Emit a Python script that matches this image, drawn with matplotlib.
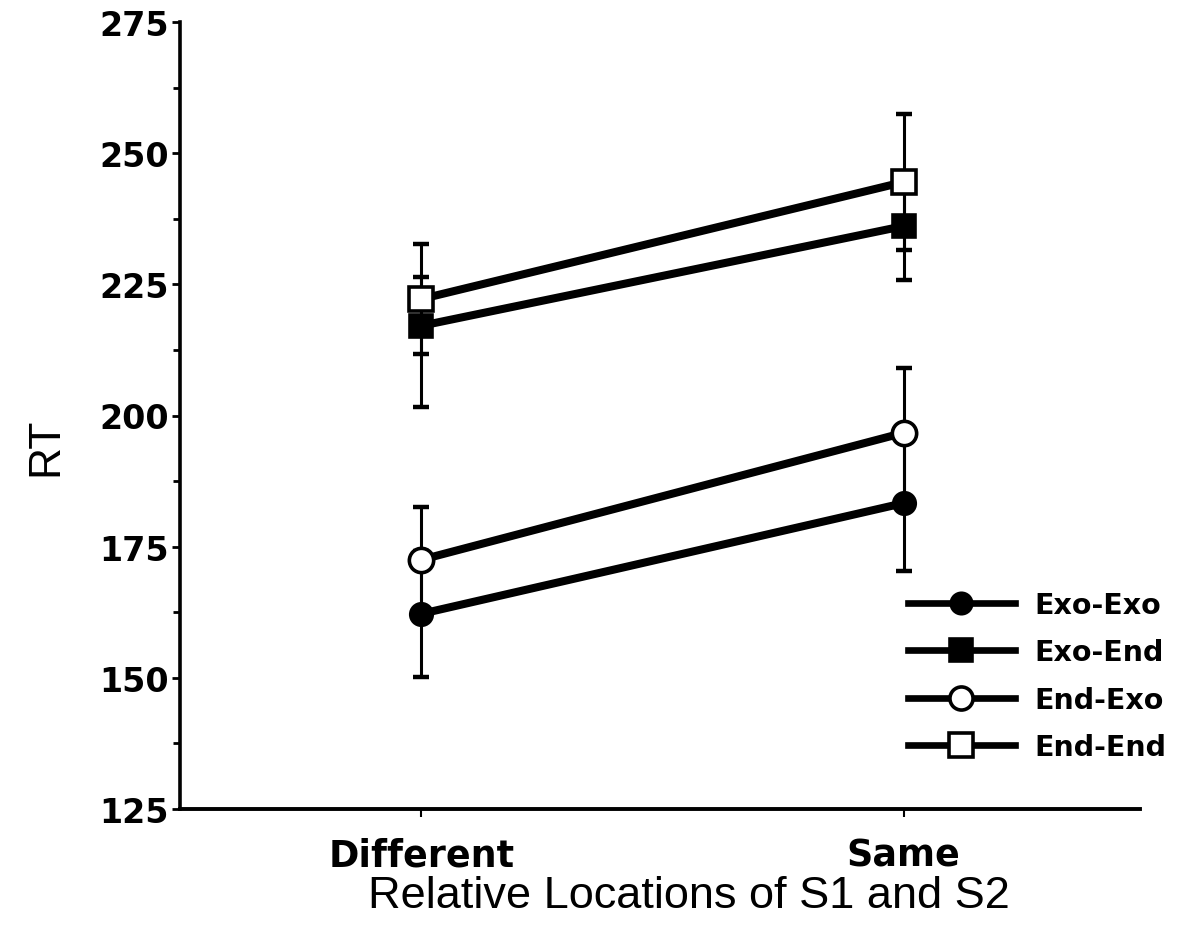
import numpy as np
import matplotlib
matplotlib.use("Agg")
import matplotlib.pyplot as plt
from matplotlib.ticker import MultipleLocator

# data
conds = ["Different", "Same"]
series = ["Exo-Exo", "Exo-End", "End-Exo", "End-End"]
exo_exo = [162.2, 183.3]
exo_exo_err = [12.0, 13.0]
exo_end = [217.1, 236.1]
exo_end_err_lo = [15.5, 10.3]
exo_end_err_hi = [9.3, 10.3]
end_exo = [172.5, 196.7]
end_exo_err = [10.0, 12.3]
end_end = [222.2, 244.5]
end_end_err = [10.5, 13.0]

fig = plt.figure(figsize=(11.81, 9.29), dpi=100)
ax = fig.add_axes([180 / 1181, 1 - 810 / 929, 960 / 1181, 787 / 929])

x = np.arange(len(conds))
styles = [
    (exo_exo, exo_exo_err, "o", "black", 15.5),
    (exo_end, [exo_end_err_lo, exo_end_err_hi], "s", "black", 16.5),
    (end_exo, end_exo_err, "o", "white", 17.5),
    (end_end, end_end_err, "s", "white", 17.5),
]
for (y, e, m, fc, ms), name in zip(styles, series):
    ax.errorbar(x, y, yerr=e, fmt="none", ecolor="black", elinewidth=2.2,
                capsize=5.5, capthick=3.2, zorder=2)
for (y, e, m, fc, ms), name in zip(styles, series):
    ax.plot(x, y, color="black", lw=5.8, marker=m, ms=ms, mfc=fc, mec="black",
            mew=2.6, label=name, zorder=3)

ax.set_xlim(-0.5, 1.49)
ax.set_ylim(125, 275)
ax.set_xticks(x)
ax.set_xticklabels(conds, fontsize=26.3, fontweight="bold", family="DejaVu Sans")
ax.yaxis.set_major_locator(MultipleLocator(25))
ax.yaxis.set_minor_locator(MultipleLocator(12.5))
for lab in ax.get_yticklabels():
    lab.set_fontsize(24)
    lab.set_fontweight("bold")
    lab.set_family("DejaVu Sans")

ax.spines["top"].set_visible(False)
ax.spines["right"].set_visible(False)
ax.spines["left"].set_linewidth(2.6)
ax.spines["bottom"].set_linewidth(2.8)
ax.tick_params(axis="y", which="major", direction="out", length=6, width=2, pad=2)
ax.tick_params(axis="y", which="minor", direction="out", length=5, width=2)
ax.tick_params(axis="x", direction="out", length=6, width=1.5, pad=14)

ax.set_xlabel("Relative Locations of S1 and S2", fontsize=32.5, family="Liberation Sans")
ax.xaxis.set_label_coords(0.53, -0.1105)
ax.xaxis.label.set_va("center")
ax.set_ylabel("RT", fontsize=32, family="Liberation Sans")
ax.yaxis.set_label_coords(-0.1396, 0.462)
ax.yaxis.label.set_va("center")

leg = ax.legend(loc="center left", bbox_to_anchor=(908 / 1181, 1 - 677 / 929),
                bbox_transform=fig.transFigure, frameon=False, borderpad=0,
                borderaxespad=0, handlelength=3.75, handletextpad=0.7,
                labelspacing=0.68, markerscale=0.95,
                prop={"family": "DejaVu Sans", "weight": "bold", "size": 20.5})
for h in leg.get_lines():
    h.set_linewidth(4.8)

fig.savefig("out.png", dpi=100)
